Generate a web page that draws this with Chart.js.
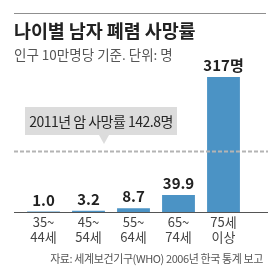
<!DOCTYPE html>
<html><head><meta charset="utf-8">
<script src="https://cdn.jsdelivr.net/npm/chart.js@4"></script>
<style>
html,body{margin:0;padding:0;background:#fff;}
#wrap{position:relative;width:280px;height:273px;overflow:hidden;font-family:"Noto Sans CJK KR","Noto Sans",sans-serif;}
canvas{position:absolute;left:0;top:0;}
#topline{position:absolute;left:14px;top:13px;width:252px;height:1px;background:#8f8f8f;z-index:3;}
#title{position:absolute;left:14px;top:17px;font-size:18.5px;font-weight:bold;color:#222;letter-spacing:-0.1px;white-space:nowrap;line-height:26px;z-index:2;}
#sub{position:absolute;left:14px;top:45px;font-size:13.5px;color:#555;letter-spacing:0;white-space:nowrap;line-height:18px;z-index:2;}
#note{position:absolute;left:25px;top:107px;width:152px;height:28px;background:#dcdcdc;color:#262626;font-size:14px;line-height:28px;text-align:center;letter-spacing:-0.5px;white-space:nowrap;z-index:2;}
#note:after{content:"";position:absolute;left:74px;top:28px;border-left:5px solid transparent;border-right:5px solid transparent;border-top:9px solid #dcdcdc;}
#src{position:absolute;right:17px;top:250px;font-size:11px;color:#555;letter-spacing:-0.4px;white-space:nowrap;line-height:16px;z-index:2;}
</style></head>
<body>
<div id="wrap">
<canvas id="c" width="280" height="273"></canvas>
<div id="topline"></div>
<div id="title">나이별 남자 폐렴 사망률</div>
<div id="sub">인구 10만명당 기준. 단위: 명</div>
<div id="note">2011년 암 사망률 142.8명</div>
<div id="src">자료: 세계보건기구(WHO) 2006년 한국 통계 보고</div>
</div>
<script>
const categories = [['35~','44세'],['45~','54세'],['55~','64세'],['65~','74세'],['75세','이상']];
const values = [1.0, 3.2, 8.7, 39.9, 317];
const referenceValue = 142.8;
const unit = '명';
const FONT = '"Noto Sans CJK KR","Noto Sans",sans-serif';
const overlay = {
  id: 'overlay',
  afterDatasetsDraw(chart) {
    const ctx = chart.ctx;
    const y = chart.scales.y;
    const left = chart.chartArea.left - 7, right = chart.chartArea.right + 22;
    ctx.save();
    const ry = Math.round(y.getPixelForValue(referenceValue)) + 0.5;
    ctx.strokeStyle = '#b4b4b4';
    ctx.lineWidth = 2;
    ctx.setLineDash([4, 2]);
    ctx.beginPath(); ctx.moveTo(left, ry); ctx.lineTo(right, ry); ctx.stroke();
    ctx.setLineDash([]);
    const by = Math.round(y.getPixelForValue(0)) + 0.5;
    ctx.strokeStyle = '#555';
    ctx.lineWidth = 1;
    ctx.beginPath(); ctx.moveTo(left, by); ctx.lineTo(right, by); ctx.stroke();
    const meta = chart.getDatasetMeta(0);
    ctx.fillStyle = '#222';
    ctx.textAlign = 'center';
    meta.data.forEach((bar, i) => {
      const v = values[i];
      const last = i === values.length - 1;
      const txt = last ? (v + unit) : v.toFixed(1);
      ctx.font = 'bold 15px ' + FONT;
      ctx.fillText(txt, bar.x, bar.y - 6);
    });
    ctx.restore();
  }
};
new Chart(document.getElementById('c'), {
  type: 'bar',
  data: { labels: categories, datasets: [{ data: values, backgroundColor: '#4b93c5', borderWidth: 0, categoryPercentage: 1, barPercentage: 0.73 }] },
  options: {
    responsive: false, animation: false, events: [],
    layout: { padding: { left: 21, right: 34, top: 77, bottom: 0 } },
    plugins: { legend: { display: false }, tooltip: { enabled: false } },
    scales: {
      y: { display: false, min: 0, max: 317 },
      x: {
        grid: { display: false, drawTicks: false }, border: { display: false },
        ticks: { color: '#444', font: { size: 13, family: FONT, lineHeight: 1.15 }, padding: 3, autoSkip: false, maxRotation: 0 },
        afterFit(scale) { scale.height = 61; }
      }
    }
  },
  plugins: [overlay]
});
</script>
</body></html>
